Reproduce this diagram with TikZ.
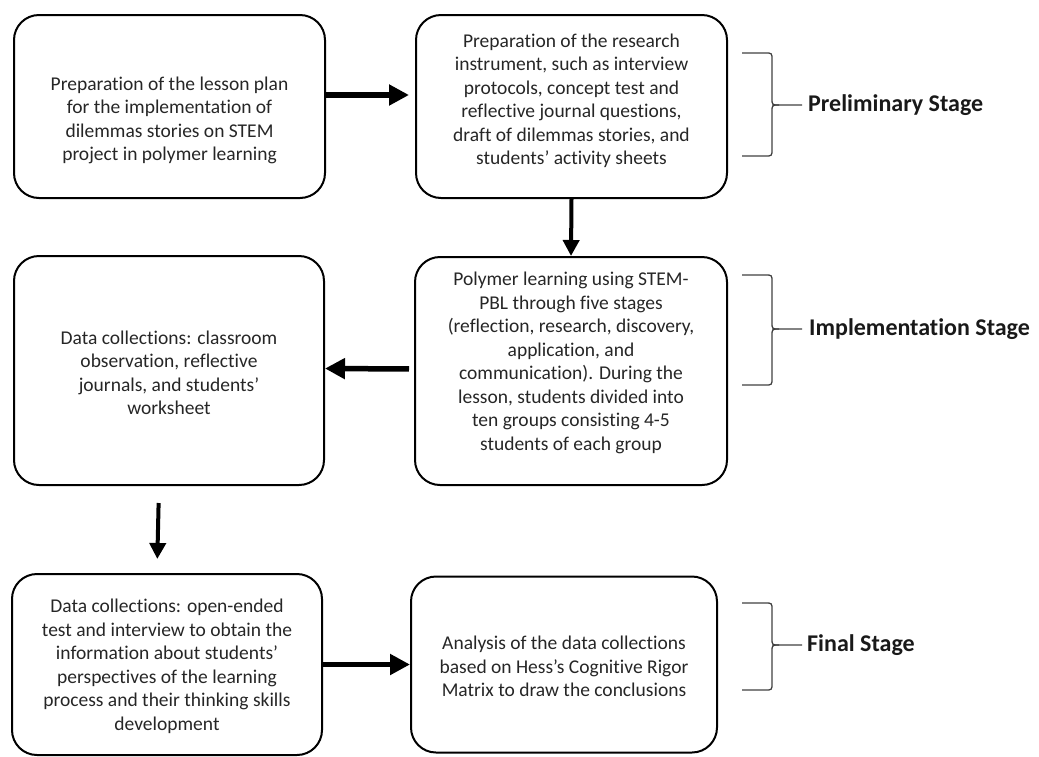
\documentclass[tikz,border=0pt]{standalone}
\usepackage{fontspec}
\setmainfont[Ligatures=NoCommon]{Carlito}
\usetikzlibrary{arrows.meta,positioning}

\tikzset{
  stagebox/.style={draw, line width=2pt, rounded corners=25pt, inner sep=0pt},
  boxtext/.style={align=center, inner sep=0pt, text=black!85,
    font=\fontsize{19.5}{23.5}\selectfont},
  bigarrow/.style={line width=5.5pt, -{Triangle[length=20pt,width=20pt]}},
  downarrow/.style={line width=4pt, -{Triangle[length=16pt,width=16pt]}},
  stagebrace/.style={line width=1.3pt, black!75},
  stagelabel/.style={inner sep=0pt, text=black!90, font=\bfseries\fontsize{24}{28}\selectfont}
}

\begin{document}
\begin{tikzpicture}[x=1pt,y=-1pt]
        \useasboundingbox (0,0) rectangle (1039,756);

        % boxes
        \node[stagebox, minimum width=311pt, minimum height=183pt] (prep) at (169.5,106.5) {};
        \node[stagebox, minimum width=311pt, minimum height=183pt] (instr) at (571.5,106.5) {};
        \node[stagebox, minimum width=312pt, minimum height=228pt] (polymer) at (571,371) {};
        \node[stagebox, minimum width=310pt, minimum height=229pt] (collect) at (169,370.5) {};
        \node[stagebox, minimum width=310pt, minimum height=181pt] (openend) at (167,664.5) {};
        \node[stagebox, minimum width=306pt, minimum height=176pt] (analysis) at (564,664.5) {};

        % texts
        \node[boxtext] (prepText) at ([yshift=-14pt]prep.center)
          {Preparation of the lesson plan\\for the implementation of\\dilemmas stories on STEM\\project in polymer learning};
        \node[boxtext] (instrText) at ([yshift=5.5pt]instr.center)
          {Preparation of the research\\instrument, such as interview\\protocols, concept test and\\reflective journal questions,\\draft of dilemmas stories, and\\students’ activity sheets};
        \node[boxtext] (polymerText) at ([yshift=8pt]polymer.center)
          {Polymer learning using STEM-\\PBL through five stages\\(reflection, research, discovery,\\application, and\\communication). During the\\lesson, students divided into\\ten groups consisting 4-5\\students of each group};
        \node[boxtext] (collectText) at ([yshift=-2.5pt]collect.center)
          {Data collections: classroom\\observation, reflective\\journals, and students’\\worksheet};
        \node[boxtext] (openendText) at ([yshift=-2pt]openend.center)
          {Data collections: open-ended\\test and interview to obtain the\\information about students’\\perspectives of the learning\\process and their thinking skills\\development};
        \node[boxtext] (analysisText) at ([yshift=-2pt]analysis.center)
          {Analysis of the data collections\\based on Hess’s Cognitive Rigor\\Matrix to draw the conclusions};

        % arrows
        \draw[bigarrow, shorten >=6pt] ([yshift=11.5pt]prep.east) -- ([yshift=11.5pt]instr.west);
        \draw[downarrow] (instr.south) -- (polymer.north);
        \draw[bigarrow, shorten <=5pt] ([yshift=2pt]polymer.west) -- ([yshift=2pt]collect.east);
        \draw[downarrow, shorten <=17pt, shorten >=14pt] ([xshift=-10pt]collect.south) -- ([xshift=-10pt]openend.north);
        \draw[bigarrow] (openend.east) -- (analysis.west);

        % stage braces
        \coordinate (tipPre) at (802,105);
        \coordinate (tipImp) at (802,329);
        \coordinate (tipFin) at (802,645);
        \draw[stagebrace] (742,53) -- (765,53) .. controls (772,53) .. (772,60) -- (772,98)
          .. controls (772,105) .. (779,105) -- (tipPre);
        \draw[stagebrace] (779,105) .. controls (772,105) .. (772,112) -- (772,149)
          .. controls (772,156) .. (765,156) -- (742,156);
        \draw[stagebrace] (742,275) -- (765,275) .. controls (772,275) .. (772,282) -- (772,322)
          .. controls (772,329) .. (779,329) -- (tipImp);
        \draw[stagebrace] (779,329) .. controls (772,329) .. (772,336) -- (772,378)
          .. controls (772,385) .. (765,385) -- (742,385);
        \draw[stagebrace] (742,603) -- (765,603) .. controls (772,603) .. (772,610) -- (772,638)
          .. controls (772,645) .. (779,645) -- (tipFin);
        \draw[stagebrace] (779,645) .. controls (772,645) .. (772,652) -- (772,683)
          .. controls (772,690) .. (765,690) -- (742,690);

        \node[stagelabel, right=6pt of tipPre] (prelim) {Preliminary Stage};
        \node[stagelabel, right=7pt of tipImp] (implem) {Implementation Stage};
        \node[stagelabel, right=5pt of tipFin] (final) {Final Stage};
\end{tikzpicture}
\end{document}
